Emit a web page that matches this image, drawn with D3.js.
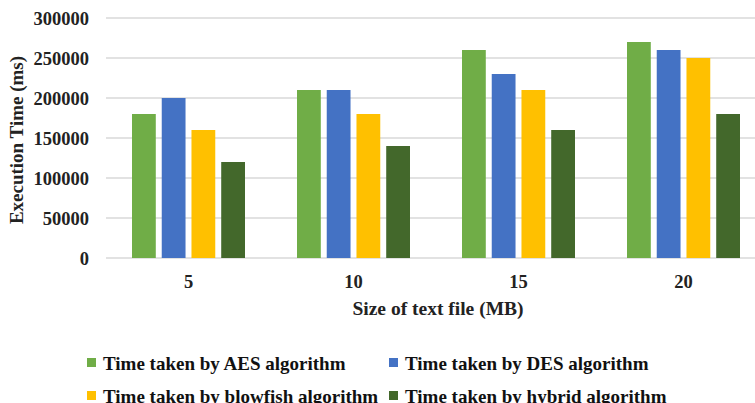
<!DOCTYPE html>
<html>
<head>
<meta charset="utf-8">
<script src="https://cdn.jsdelivr.net/npm/d3@7"></script>
<style>
  html, body { margin: 0; padding: 0; background: #fff; }
  svg { display: block; font-family: "Liberation Serif", "Times New Roman", serif; font-weight: bold; }
</style>
</head>
<body>
<svg id="chart" width="755" height="403"></svg>
<script>
const categories = ["5", "10", "15", "20"];
const seriesNames = [
  "Time taken by AES algorithm",
  "Time taken by DES algorithm",
  "Time taken by blowfish algorithm",
  "Time taken by hybrid algorithm"
];
const aesValues = [180000, 210000, 260000, 270000];
const desValues = [200000, 210000, 230000, 260000];
const blowfishValues = [160000, 180000, 210000, 250000];
const hybridValues = [120000, 140000, 160000, 180000];
const yTicks = [0, 50000, 100000, 150000, 200000, 250000, 300000];
const colors = ["#70AD47", "#4472C4", "#FFC000", "#43682B"];

const seriesValues = [aesValues, desValues, blowfishValues, hybridValues];

const svg = d3.select("#chart");
const margin = { left: 106, right: 766, top: 18, bottom: 258 };

const x0 = d3.scaleBand().domain(categories).range([margin.left, margin.right]).padding(0);
const x1 = d3.scaleBand().domain(d3.range(seriesNames.length))
  .range([26, x0.bandwidth() - 26]).paddingInner(0.2).paddingOuter(0);
const y = d3.scaleLinear().domain([0, 300000]).range([margin.bottom, margin.top]);

// gridlines
svg.append("g").selectAll("line").data(yTicks).join("line")
  .attr("x1", margin.left).attr("x2", 755)
  .attr("y1", d => y(d)).attr("y2", d => y(d))
  .attr("stroke", "#d9d9d9").attr("stroke-width", 1.5);

// y axis labels
const yAxis = d3.axisLeft(y).tickValues(yTicks).tickSize(0).tickPadding(0).tickFormat(d3.format("d"));
const gy = svg.append("g").attr("transform", `translate(89,0)`).call(yAxis);
gy.select(".domain").remove();
gy.selectAll("text").attr("font-size", 18.5).attr("font-family", "Liberation Serif").attr("font-weight", "bold").attr("fill", "#222").attr("dy", "0.35em");

// bars
const groups = svg.append("g").selectAll("g").data(categories).join("g")
  .attr("transform", d => `translate(${x0(d)},0)`);
groups.selectAll("rect").data((d, i) => seriesValues.map((s, k) => ({ k, v: s[i] })))
  .join("rect")
  .attr("x", d => x1(d.k))
  .attr("width", x1.bandwidth())
  .attr("y", d => y(d.v))
  .attr("height", d => y(0) - y(d.v))
  .attr("fill", d => colors[d.k]);

// x axis labels
const xAxis = d3.axisBottom(x0).tickSize(0).tickPadding(0);
const gx = svg.append("g").attr("transform", `translate(0,282)`).call(xAxis);
gx.select(".domain").remove();
gx.selectAll("text").attr("font-size", 18.5).attr("font-family", "Liberation Serif").attr("font-weight", "bold").attr("fill", "#222").attr("dy", "0.35em");

// axis titles
svg.append("text").attr("x", 438).attr("y", 315)
  .attr("text-anchor", "middle").attr("font-size", 19.5).attr("fill", "#222")
  .text("Size of text file (MB)");
svg.append("text").attr("transform", "translate(23,140) rotate(-90)")
  .attr("text-anchor", "middle").attr("font-size", 19).attr("fill", "#222")
  .text("Execution Time (ms)");

// legend
const legendPos = [[87, 363], [389, 363], [87, 396], [389, 396]];
const lg = svg.append("g").selectAll("g").data(seriesNames).join("g")
  .attr("transform", (d, i) => `translate(${legendPos[i][0]},${legendPos[i][1]})`);
lg.append("rect").attr("x", 0).attr("y", -5).attr("width", 9).attr("height", 9)
  .attr("fill", (d, i) => colors[i]);
lg.append("text").attr("x", 16).attr("y", 0).attr("dy", "0.35em")
  .attr("font-size", 19).attr("fill", "#111").text(d => d);
</script>
</body>
</html>
